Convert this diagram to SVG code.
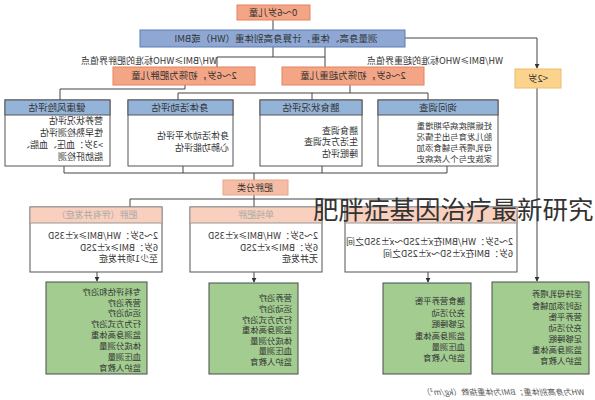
<svg xmlns="http://www.w3.org/2000/svg" width="595" height="400" viewBox="0 0 595 400">
<defs>
<marker id="ah" viewBox="0 0 6 6" refX="5" refY="3" markerWidth="5" markerHeight="5" orient="auto"><path d="M0,0 L6,3 L0,6 z" fill="#333"/></marker>
<style>
.t{font-family:"Noto Sans CJK SC","Liberation Sans",sans-serif;font-size:9px;fill:#333}
.s{font-size:8.4px}
.c{text-anchor:middle}
.h{font-size:9.5px}
.g{fill:#aaa}
.or{fill:#f3a586;stroke:#e5835f;stroke-width:1}
.bl{fill:#8ea8d3;stroke:#5f7db3;stroke-width:1}
.hd{fill:#94b3d8;stroke:#555;stroke-width:1}
.wb{fill:#fff;stroke:#555;stroke-width:1}
.pk{fill:#f8d0bd;stroke:#999;stroke-width:1}
.gr{fill:#a2cc90;stroke:#4a4a4a;stroke-width:1}
.ln{fill:none;stroke:#444;stroke-width:1}
</style>
</defs>
<rect width="595" height="400" fill="#fff"/>
<g id="connectors" class="ln">
<path d="M273,20 V30"/>
<path d="M273,47 V57 M217,57 H325 M217,57 V67 M325,47 V67"/>
<path d="M405,38 H537 V68" marker-end="url(#ah)"/>
<path d="M537,88 V281" marker-end="url(#ah)"/>
<path d="M185,85 V89 M60,89 H185 M60,89 V100"/>
<path d="M350,85 V93 M178,93 H428 M178,93 V100 M312,93 V100 M428,93 V100"/>
<path d="M64,166 V173 M183,166 V173 M322,166 V173 M447,166 V173 M64,173 H447 M254,173 V180"/>
<path d="M130,199 H430 M130,199 V207 M430,199 V207"/>
<path d="M254,195 V207"/>
<path d="M97,272 V281" marker-end="url(#ah)"/>
<path d="M254,272 V282" marker-end="url(#ah)"/>
<path d="M428,272 V282" marker-end="url(#ah)"/>
</g>
<g id="n-top"><rect class="or" x="237" y="5" width="73" height="15"/><text class="t c h" transform="translate(273,16) scale(-1,1)">0～6岁儿童</text></g>
<g id="n-measure"><rect class="bl" x="140" y="30" width="265" height="17"/><text class="t c h" transform="translate(276,42) scale(-1,1)">测量身高、体重，计算身高别体重（WH）或BMI</text></g>
<g id="lbl-left"><text class="t" transform="translate(217,64) scale(-1,1)">WH/BMI≥WHO标准的肥胖界值点</text></g>
<g id="lbl-right"><text class="t" transform="translate(503,64) scale(-1,1)">WH/BMI≥WHO标准的超重界值点</text></g>
<g id="n-obese"><rect class="or" x="113" y="67" width="142" height="18"/><text class="t c h" transform="translate(184,79) scale(-1,1)">2～6岁，初筛为肥胖儿童</text></g>
<g id="n-over"><rect class="or" x="282" y="67" width="142" height="18"/><text class="t c h" transform="translate(353,79) scale(-1,1)">2～6岁，初筛为超重儿童</text></g>
<g id="n-under2"><rect x="515" y="69" width="46" height="19" fill="#fbd38d" stroke="#f0bb6a"/><text class="t c h" transform="translate(538,82) scale(-1,1)">&lt;2岁</text></g>
<g id="n-health"><rect class="wb" x="5" y="100" width="105" height="66"/><rect class="hd" x="5" y="100" width="105" height="15"/><text class="t c h" transform="translate(57,111) scale(-1,1)">健康风险评估</text>
<text class="t" transform="translate(103,124) scale(-1,1)">营养状况评估</text><text class="t" transform="translate(103,136) scale(-1,1)">性早熟检测评估</text><text class="t" transform="translate(103,148) scale(-1,1)">&gt;3岁：血压、血脂、</text><text class="t" transform="translate(103,160) scale(-1,1)">脂肪肝检测</text></g>
<g id="n-activity"><rect class="wb" x="128" y="100" width="105" height="66"/><rect class="hd" x="128" y="100" width="105" height="15"/><text class="t c h" transform="translate(180,111) scale(-1,1)">身体活动评估</text>
<text class="t" transform="translate(229,139) scale(-1,1)">身体活动水平评估</text><text class="t" transform="translate(229,150.5) scale(-1,1)">心肺功能评估</text></g>
<g id="n-diet"><rect class="wb" x="260" y="100" width="102" height="66"/><rect class="hd" x="260" y="100" width="102" height="15"/><text class="t c h" transform="translate(311,111) scale(-1,1)">膳食状况评估</text>
<text class="t" transform="translate(358,133.5) scale(-1,1)">膳食调查</text><text class="t" transform="translate(358,145) scale(-1,1)">生活方式调查</text><text class="t" transform="translate(358,156.5) scale(-1,1)">睡眠评估</text></g>
<g id="n-inquiry"><rect class="wb" x="378" y="100" width="120" height="66"/><rect class="hd" x="378" y="100" width="120" height="15"/><text class="t c h" transform="translate(438,111) scale(-1,1)">询问调查</text>
<text class="t s" transform="translate(492,129) scale(-1,1)">妊娠期疾病孕期增重</text><text class="t s" transform="translate(492,140) scale(-1,1)">胎儿发育与出生情况</text><text class="t s" transform="translate(492,151) scale(-1,1)">母乳喂养与辅食添加</text><text class="t s" transform="translate(492,162) scale(-1,1)">家族史与个人疾病史</text></g>
<g id="n-class"><rect x="223" y="180" width="65" height="15" fill="#f5bda5" stroke="#e8a688"/><text class="t c" transform="translate(255,191) scale(-1,1)">肥胖分类</text></g>
<g id="n-cat1"><rect class="wb" x="30" y="207" width="132" height="65"/><rect class="pk" x="30" y="207" width="132" height="16"/><text class="t c g" transform="translate(97,218) scale(-1,1)">肥胖（伴有并发症）</text>
<text class="t" transform="translate(158,239) scale(-1,1)">2～5岁：WH/BMI≥x̄±3SD</text><text class="t" transform="translate(158,250.5) scale(-1,1)">6岁：BMI≥x̄±2SD</text><text class="t" transform="translate(158,262) scale(-1,1)">至少1项并发症</text></g>
<g id="n-cat2"><rect class="wb" x="190" y="207" width="132" height="65"/><rect class="pk" x="190" y="207" width="132" height="16"/><text class="t c g" transform="translate(256,218) scale(-1,1)">单纯肥胖</text>
<text class="t" transform="translate(318,239) scale(-1,1)">2～5岁：WH/BMI≥x̄±3SD</text><text class="t" transform="translate(318,250.5) scale(-1,1)">6岁：BMI≥x̄±2SD</text><text class="t" transform="translate(318,262) scale(-1,1)">无并发症</text></g>
<g id="n-cat3"><rect class="wb" x="345" y="207" width="172" height="65"/><rect class="pk" x="345" y="207" width="172" height="16"/>
<text class="t" transform="translate(513,245) scale(-1,1)">2～5岁：WH/BMI在x̄±2SD～x̄±3SD之间</text><text class="t" transform="translate(513,256.5) scale(-1,1)">6岁：BMI在x̄±SD～x̄±2SD之间</text></g>
<g id="n-g1"><rect class="gr" x="46" y="282" width="101" height="92"/>
<text class="t s" transform="translate(141,295) scale(-1,1)">专科评估和治疗</text><text class="t s" transform="translate(141,305.5) scale(-1,1)">营养治疗</text><text class="t s" transform="translate(141,316) scale(-1,1)">运动治疗</text><text class="t s" transform="translate(141,327) scale(-1,1)">行为方式治疗</text><text class="t s" transform="translate(141,338) scale(-1,1)">监测身高体重</text><text class="t s" transform="translate(141,349) scale(-1,1)">体成分测量</text><text class="t s" transform="translate(141,360) scale(-1,1)">血压测量</text><text class="t s" transform="translate(141,370.5) scale(-1,1)">监护人教育</text></g>
<g id="n-g2"><rect class="gr" x="209" y="283" width="89" height="91"/>
<text class="t s" transform="translate(292,301) scale(-1,1)">营养治疗</text><text class="t s" transform="translate(292,312) scale(-1,1)">运动治疗</text><text class="t s" transform="translate(292,322.5) scale(-1,1)">行为方式治疗</text><text class="t s" transform="translate(292,333) scale(-1,1)">监测身高体重</text><text class="t s" transform="translate(292,343.5) scale(-1,1)">体成分测量</text><text class="t s" transform="translate(292,354) scale(-1,1)">血压测量</text><text class="t s" transform="translate(292,365) scale(-1,1)">监护人教育</text></g>
<g id="n-g3"><rect class="gr" x="383" y="283" width="88" height="91"/>
<text class="t s" transform="translate(465,304) scale(-1,1)">膳食营养平衡</text><text class="t s" transform="translate(465,315.5) scale(-1,1)">充分活动</text><text class="t s" transform="translate(465,327) scale(-1,1)">足够睡眠</text><text class="t s" transform="translate(465,338.5) scale(-1,1)">监测身高体重</text><text class="t s" transform="translate(465,349.5) scale(-1,1)">血压测量</text><text class="t s" transform="translate(465,360.5) scale(-1,1)">监护人教育</text></g>
<g id="n-g4"><rect class="gr" x="492" y="282" width="97" height="92"/>
<text class="t s" transform="translate(582,297) scale(-1,1)">坚持母乳喂养</text><text class="t s" transform="translate(582,308.5) scale(-1,1)">适时添加辅食</text><text class="t s" transform="translate(582,319.5) scale(-1,1)">营养平衡</text><text class="t s" transform="translate(582,330.5) scale(-1,1)">充分活动</text><text class="t s" transform="translate(582,341.5) scale(-1,1)">足够睡眠</text><text class="t s" transform="translate(582,352.5) scale(-1,1)">监测身高体重</text><text class="t s" transform="translate(582,363.5) scale(-1,1)">监护人教育</text></g>
<g id="footnote"><text class="t" style="font-size:8px;font-style:italic;fill:#555" transform="translate(585,395) scale(-1,1)">WH为身高别体重；BMI为体重指数（kg/m²）</text></g>
<g id="overlay"><text x="313" y="219" style="font-family:'Noto Sans CJK SC',sans-serif;font-size:25.5px;fill:#333">肥胖症基因治疗最新研究</text></g>
</svg>
